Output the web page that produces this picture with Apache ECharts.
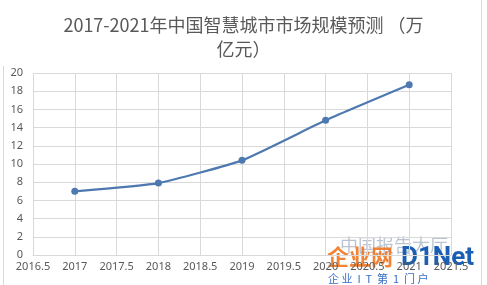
<!DOCTYPE html>
<html><head><meta charset="utf-8">
<script src="https://cdn.jsdelivr.net/npm/echarts@6/dist/echarts.min.js"></script>
<style>html,body{margin:0;padding:0;background:#fff}#c{width:487px;height:285px}</style>
</head><body><div id="c"></div>
<script>
const years = [2017, 2018, 2019, 2020, 2021];
const values = [7.0, 7.9, 10.4, 14.8, 18.7];
const titleLines = ['2017-2021年中国智慧城市市场规模预测 （万', '亿元）'];
const xMin = 2016.5, xMax = 2021.5, xStep = 0.5;
const yMin = 0, yMax = 20, yStep = 2;

const chart = echarts.init(document.getElementById('c'));
chart.setOption({
  animation: false,
  title: {
    text: titleLines.join('\n'),
    left: 'center', top: 8,
    textStyle: { fontFamily: 'Noto Sans CJK SC', fontSize: 18, fontWeight: 'normal', color: '#595959', lineHeight: 24 }
  },
  grid: { left: 33, right: 36, top: 73, bottom: 30 },
  xAxis: {
    type: 'value', min: xMin, max: xMax, interval: xStep,
    axisLine: { show: true, lineStyle: { color: '#d9d9d9' } },
    axisTick: { show: false },
    splitLine: { show: true, lineStyle: { color: '#d9d9d9' } },
    axisLabel: { color: '#595959', fontSize: 11, fontFamily: 'Noto Sans', margin: 6,
      formatter: v => String(v), showMinLabel: true, showMaxLabel: true }
  },
  yAxis: {
    type: 'value', min: yMin, max: yMax, interval: yStep,
    axisLine: { show: false }, axisTick: { show: false },
    splitLine: { show: true, lineStyle: { color: '#d9d9d9' } },
    axisLabel: { color: '#595959', fontSize: 11, fontFamily: 'Noto Sans', margin: 10 }
  },
  graphic: [
    { type: 'line', shape: { x1: 3.5, y1: 66, x2: 3.5, y2: 285 }, style: { stroke: '#d9d9d9', lineWidth: 1 } },
    { type: 'line', shape: { x1: 481.5, y1: 0, x2: 481.5, y2: 285 }, style: { stroke: '#d9d9d9', lineWidth: 1 } },
    { type: 'text', left: 340, top: 236, style: { text: '中国报告大厅', fill: 'rgba(60,80,120,0.35)', font: '18px "Noto Sans CJK SC"' } },
    { type: 'text', left: 327, top: 246, style: { text: '企业网', fill: 'rgba(240,110,20,0.85)', font: 'bold 22px "Noto Sans CJK SC"' } },
    { type: 'text', left: 401, top: 245, style: { text: 'D1Net', fill: '#1a5fb4', font: 'bold 26px Roboto' } },
    { type: 'text', left: 328, top: 273, style: { text: '企 业  I  T  第  1  门 户', fill: '#3a6fc4', font: '11px "Noto Sans CJK SC"' } }
  ],
  series: [{
    type: 'line',
    data: years.map((y, i) => [y, values[i]]),
    smooth: 0.15,
    symbol: 'circle', symbolSize: 7,
    lineStyle: { color: '#4e79b0', width: 2.2 },
    itemStyle: { color: '#4e79b0' }
  }]
});
</script></body></html>
